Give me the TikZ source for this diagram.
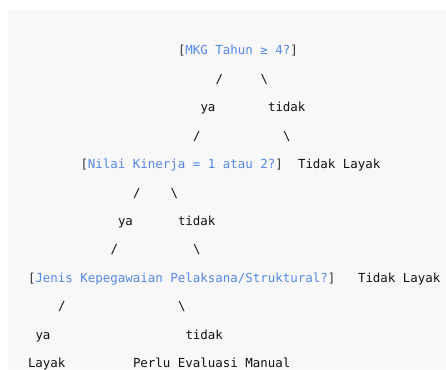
\documentclass[tikz,border=0pt]{standalone}
\usepackage{fontspec}
\setmonofont{DejaVu Sans Mono}
\definecolor{codebg}{HTML}{F8F8F8}
\definecolor{qblue}{RGB}{84,134,232}
\definecolor{ink}{HTML}{111111}
\definecolor{brk}{HTML}{333333}
\newcommand{\q}[1]{\textcolor{brk}{[}\textcolor{qblue}{#1}\textcolor{brk}{]}}
\begin{document}
\begin{tikzpicture}[x=1pt,y=-1pt,
  txt/.style={anchor=base west,inner sep=0pt,outer sep=0pt,text=ink,
    font=\ttfamily\fontsize{12.45pt}{14pt}\selectfont}]
\useasboundingbox (0,0) rectangle (446,369);
\fill[codebg] (8,10) rectangle (446,369);
\def\cx#1{28+#1*7.5}
\def\by#1{55+#1*28.4}
\node[txt] (q1) at ({\cx{20}},{\by{0}}) {\q{MKG Tahun ≥ 4?}};
\node[txt] (s1a) at ({\cx{25}},{\by{1}}) {/};
\node[txt] (s1b) at ({\cx{31}},{\by{1}}) {\textbackslash};
\node[txt] (ya1) at ({\cx{23}},{\by{2}}) {ya};
\node[txt] (td1) at ({\cx{32}},{\by{2}}) {tidak};
\node[txt] (s2a) at ({\cx{22}},{\by{3}}) {/};
\node[txt] (s2b) at ({\cx{34}},{\by{3}}) {\textbackslash};
\node[txt] (q2) at ({\cx{7}},{\by{4}}) {\q{Nilai Kinerja = 1 atau 2?}};
\node[txt] (tl1) at ({\cx{36}},{\by{4}}) {Tidak Layak};
\node[txt] (s3a) at ({\cx{14}},{\by{5}}) {/};
\node[txt] (s3b) at ({\cx{19}},{\by{5}}) {\textbackslash};
\node[txt] (ya2) at ({\cx{12}},{\by{6}}) {ya};
\node[txt] (td2) at ({\cx{20}},{\by{6}}) {tidak};
\node[txt] (s4a) at ({\cx{11}},{\by{7}}) {/};
\node[txt] (s4b) at ({\cx{22}},{\by{7}}) {\textbackslash};
\node[txt] (q3) at ({\cx{0}},{\by{8}}) {\q{Jenis Kepegawaian Pelaksana/Struktural?}};
\node[txt] (tl2) at ({\cx{44}},{\by{8}}) {Tidak Layak};
\node[txt] (s5a) at ({\cx{4}},{\by{9}}) {/};
\node[txt] (s5b) at ({\cx{20}},{\by{9}}) {\textbackslash};
\node[txt] (ya3) at ({\cx{1}},{\by{10}}) {ya};
\node[txt] (td3) at ({\cx{21}},{\by{10}}) {tidak};
\node[txt] (ly) at ({\cx{0}},{\by{11}}) {Layak};
\node[txt] (pem) at ({\cx{14}},{\by{11}}) {Perlu Evaluasi Manual};
\end{tikzpicture}
\end{document}
